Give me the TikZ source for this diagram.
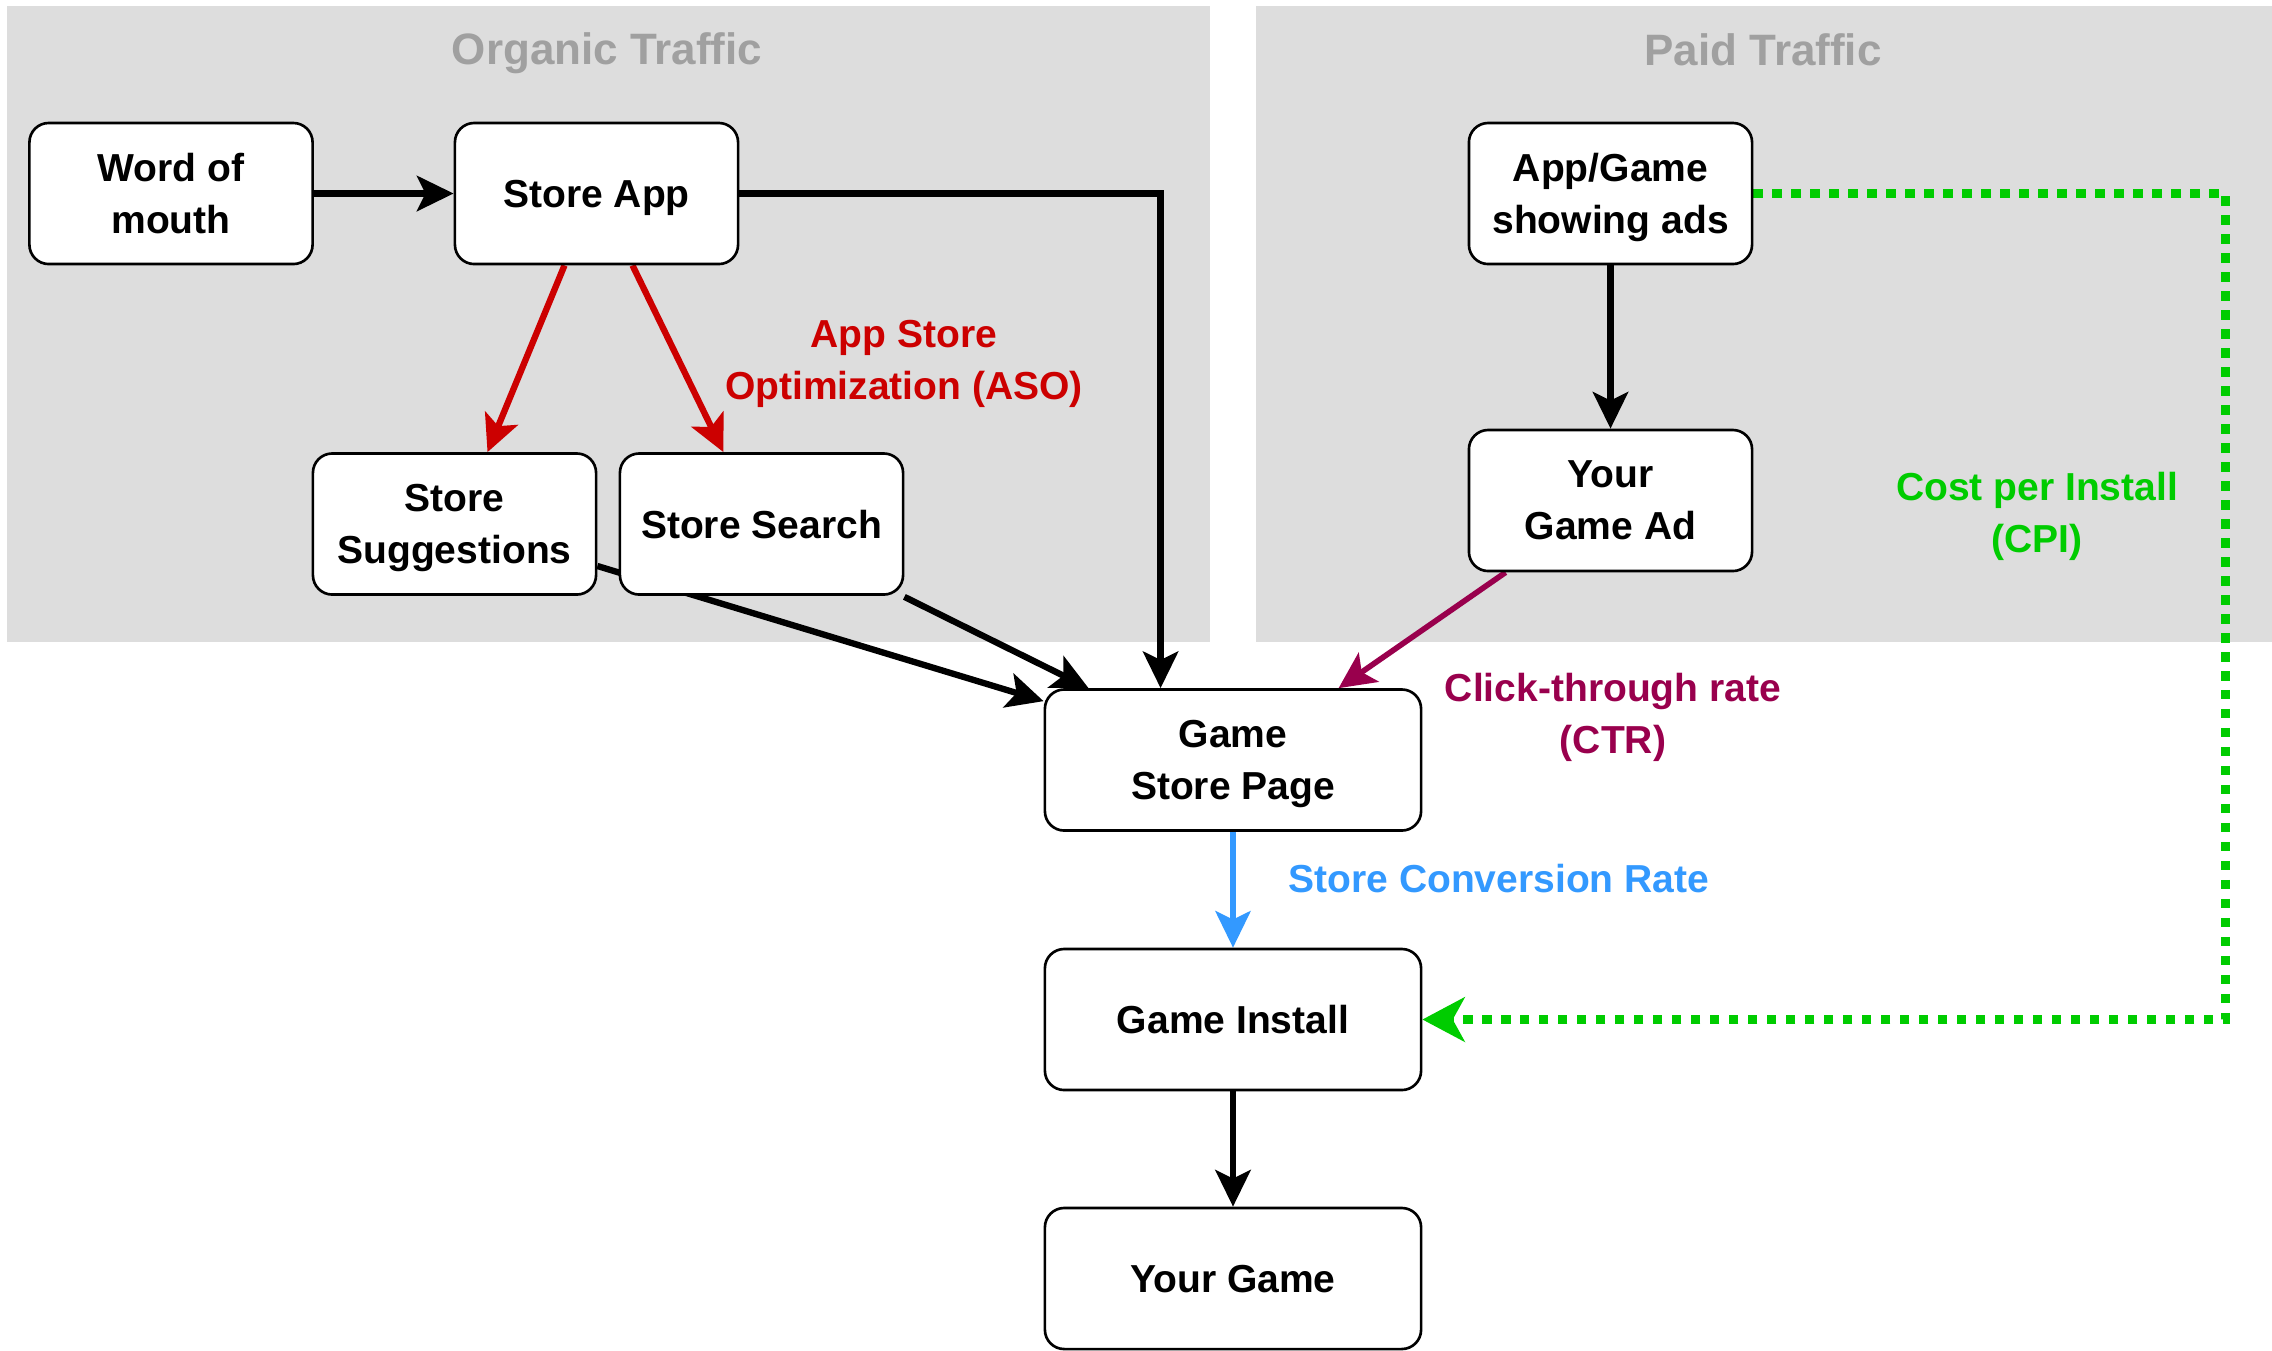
\documentclass[tikz,border=0pt]{standalone}
\usepackage{fontspec}
\setmainfont{Liberation Sans}
\usetikzlibrary{arrows.meta,calc}

\definecolor{panelfill}{HTML}{DDDDDD}
\definecolor{paneltitle}{HTML}{A0A0A0}
\definecolor{asored}{HTML}{CC0000}
\definecolor{ctrpurple}{HTML}{99004D}
\definecolor{convblue}{HTML}{3399FF}
\definecolor{cpigreen}{HTML}{00CC00}

\pgfdeclarelayer{background}
\pgfdeclarelayer{edges}
\pgfsetlayers{background,edges,main}

\tikzset{
  box/.style={draw=black, line width=0.75pt, fill=white, rounded corners=5.5pt,
    minimum width=2.83cm, minimum height=1.41cm, inner sep=0pt, align=center,
    text depth=0pt, font=\fontsize{11.1}{14.8}\selectfont\bfseries},
  widebox/.style={box, minimum width=3.76cm},
  paneltext/.style={text=paneltitle, font=\fontsize{12.5}{15}\selectfont\bfseries},
  note/.style={align=center, font=\fontsize{11.1}{14.8}\selectfont\bfseries},
  flow/.style={line width=1.8pt, draw=black,
    -{Stealth[length=10.4pt,width=10pt,inset=2.4pt]}},
  cpiflow/.style={line width=2.6pt, draw=cpigreen, dash pattern=on 2.7pt off 2.7pt,
    -{Stealth[length=12pt,width=12.6pt,inset=3.4pt,fill=cpigreen]}},
}

\begin{document}
\begin{tikzpicture}[x=0.01cm, y=-0.01cm]
  \useasboundingbox (0,0) rectangle (2272,1350);

  % traffic source panels
  \begin{pgfonlayer}{background}
    \fill[panelfill] (7,6) rectangle (1210,642);
    \fill[panelfill] (1256,6) rectangle (2272,642);
  \end{pgfonlayer}
  \node[paneltext] (organic) at (607,53) {Organic Traffic};
  \node[paneltext] (paid) at (1763,50) {Paid Traffic};

  % funnel steps
  \node[box] (wom) at (171,193.5) {Word of\\mouth};
  \node[box] (sa) at (596.5,193.5) {Store App};
  \node[box] (sug) at (454.5,524) {Store\\Suggestions};
  \node[box] (ss) at (761.5,524) {Store Search};
  \node[box] (ags) at (1610.5,193.5) {App/Game\\showing ads};
  \node[box] (ad) at (1610.5,500.5) {Your\\Game Ad};
  \node[widebox] (gsp) at (1233,760) {Game\\Store Page};
  \node[widebox] (gi) at (1233,1019.5) {Game Install};
  \node[widebox] (yg) at (1233,1278.5) {Your Game};

  % metric labels
  \node[note, text=asored] (aso) at (904,364) {App Store\\Optimization (ASO)};
  \node[note, text=cpigreen] (cpi) at (2037,516) {Cost per Install\\(CPI)};
  \node[note, text=ctrpurple] (ctr) at (1613,717) {Click-through rate\\(CTR)};
  \node[note, text=convblue, anchor=west] (conv) at (1276,879) {Store Conversion Rate};

  % connectors
  \begin{pgfonlayer}{edges}
    \draw[flow] (wom) -- (sa);
    \draw[flow] (sa.east) -| ($(gsp.north west)+(117,0)$);
    \draw[flow, draw=asored] ($(sa.south)+(-32,0)$) -- ($(sug.north)+(33,0)$);
    \draw[flow, draw=asored] ($(sa.south)+(36,0)$) -- ($(ss.north)+(-38,0)$);
    \draw[flow] ($(sug.east)+(0,42)$) -- ($(gsp.north west)+(0,13)$);
    \draw[flow] ($(ss.south east)+(0,1)$) -- ($(gsp.north west)+(45,0)$);
    \draw[flow] (ags) -- (ad);
    \draw[flow, draw=ctrpurple, line width=1.6pt] ($(ad.south west)+(38,0)$) -- ($(gsp.north west)+(295,0)$);
    \draw[flow, draw=convblue, line width=1.5pt] (gsp) -- (gi);
    \draw[flow] (gi) -- (yg);
    \draw[cpiflow] (ags.east) -- ++(472,0) |- (gi.east);
  \end{pgfonlayer}
\end{tikzpicture}
\end{document}
